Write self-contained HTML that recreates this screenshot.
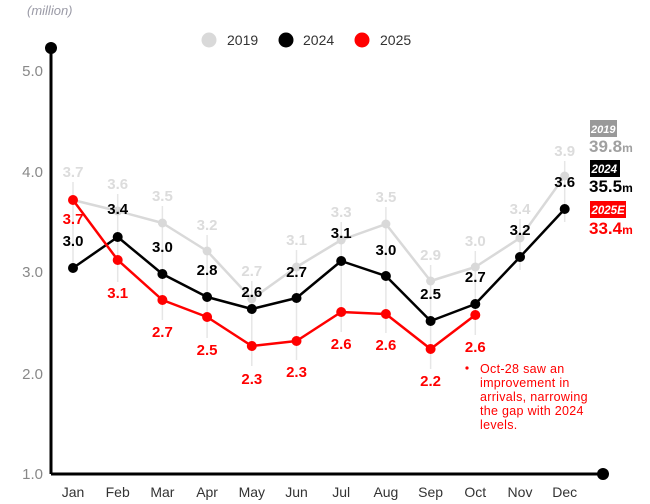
<!DOCTYPE html>
<html><head><meta charset="utf-8"><style>
html,body{margin:0;padding:0;background:#fff;}
svg{display:block;font-family:"Liberation Sans",Arial,sans-serif;}
</style></head><body>
<svg width="650" height="504" viewBox="0 0 650 504" xmlns="http://www.w3.org/2000/svg">
<text x="27" y="15" font-size="13" font-style="italic" fill="#9a9aa6">(million)</text>
<!-- legend -->
<circle cx="209" cy="40" r="7.5" fill="#d9d9d9"/><text x="227" y="45" font-size="14" fill="#333">2019</text>
<circle cx="286" cy="40" r="7.5" fill="#000"/><text x="303" y="45" font-size="14" fill="#333">2024</text>
<circle cx="362" cy="40" r="7.5" fill="#ff0000"/><text x="380" y="45" font-size="14" fill="#333">2025</text>
<!-- y ticks -->
<g font-size="15" fill="#888" text-anchor="end">
<text x="43" y="76">5.0</text><text x="43" y="177">4.0</text><text x="43" y="277">3.0</text><text x="43" y="379">2.0</text><text x="43" y="479">1.0</text>
</g>
<!-- vertical faint lines -->
<g stroke="#e6e6e6" stroke-width="1.5">
<line x1="73" y1="182" x2="73" y2="272"/>
<line x1="117.7" y1="194" x2="117.7" y2="282"/>
<line x1="162.4" y1="206" x2="162.4" y2="320"/>
<line x1="207.1" y1="235" x2="207.1" y2="338"/>
<line x1="251.8" y1="281" x2="251.8" y2="366"/>
<line x1="296.5" y1="250" x2="296.5" y2="360"/>
<line x1="341.2" y1="222" x2="341.2" y2="332"/>
<line x1="385.9" y1="207" x2="385.9" y2="333"/>
<line x1="430.6" y1="265" x2="430.6" y2="369"/>
<line x1="475.3" y1="251" x2="475.3" y2="335"/>
<line x1="520" y1="219" x2="520" y2="270"/>
<line x1="564.7" y1="161" x2="564.7" y2="222"/>
</g>
<!-- axes -->
<line x1="51" y1="48" x2="51" y2="474" stroke="#000" stroke-width="3"/>
<line x1="51" y1="474" x2="603" y2="474" stroke="#000" stroke-width="3"/>
<circle cx="51" cy="48" r="6" fill="#000"/>
<circle cx="603" cy="474" r="6" fill="#000"/>
<!-- 2019 -->
<polyline fill="none" stroke="#d9d9d9" stroke-width="2.5" stroke-linejoin="round" points="73,200 117.7,211 162.4,223 207.1,251 251.8,299 296.5,267 341.2,240 385.9,224 430.6,281 475.3,267 520,238 564.7,176"/>
<g fill="#d9d9d9">
<circle cx="73" cy="200" r="4.5"/><circle cx="117.7" cy="211" r="4.5"/><circle cx="162.4" cy="223" r="4.5"/><circle cx="207.1" cy="251" r="4.5"/><circle cx="251.8" cy="299" r="4.5"/><circle cx="296.5" cy="267" r="4.5"/><circle cx="341.2" cy="240" r="4.5"/><circle cx="385.9" cy="224" r="4.5"/><circle cx="430.6" cy="281" r="4.5"/><circle cx="475.3" cy="267" r="4.5"/><circle cx="520" cy="238" r="4.5"/><circle cx="564.7" cy="176" r="4.5"/>
</g>
<!-- 2024 -->
<polyline fill="none" stroke="#000" stroke-width="2.5" stroke-linejoin="round" points="73,268 117.7,237 162.4,274 207.1,297 251.8,309 296.5,298 341.2,261 385.9,276 430.6,321 475.3,304 520,257 564.7,209"/>
<g fill="#000">
<circle cx="73" cy="268" r="5"/><circle cx="117.7" cy="237" r="5"/><circle cx="162.4" cy="274" r="5"/><circle cx="207.1" cy="297" r="5"/><circle cx="251.8" cy="309" r="5"/><circle cx="296.5" cy="298" r="5"/><circle cx="341.2" cy="261" r="5"/><circle cx="385.9" cy="276" r="5"/><circle cx="430.6" cy="321" r="5"/><circle cx="475.3" cy="304" r="5"/><circle cx="520" cy="257" r="5"/><circle cx="564.7" cy="209" r="5"/>
</g>
<!-- 2025 -->
<polyline fill="none" stroke="#ff0000" stroke-width="2.5" stroke-linejoin="round" points="73,200 117.7,260 162.4,300 207.1,317 251.8,346 296.5,341 341.2,312 385.9,314 430.6,349 475.3,315"/>
<g fill="#ff0000">
<circle cx="73" cy="200" r="5"/><circle cx="117.7" cy="260" r="5"/><circle cx="162.4" cy="300" r="5"/><circle cx="207.1" cy="317" r="5"/><circle cx="251.8" cy="346" r="5"/><circle cx="296.5" cy="341" r="5"/><circle cx="341.2" cy="312" r="5"/><circle cx="385.9" cy="314" r="5"/><circle cx="430.6" cy="349" r="5"/><circle cx="475.3" cy="315" r="5"/>
</g>
<!-- labels 2019 -->
<g font-size="15" font-weight="bold" fill="#dcdcdc" text-anchor="middle">
<text x="73" y="177">3.7</text><text x="117.7" y="189">3.6</text><text x="162.4" y="201">3.5</text><text x="207.1" y="230">3.2</text><text x="251.8" y="276">2.7</text><text x="296.5" y="245">3.1</text><text x="341.2" y="217">3.3</text><text x="385.9" y="202">3.5</text><text x="430.6" y="260">2.9</text><text x="475.3" y="246">3.0</text><text x="520" y="214">3.4</text><text x="564.7" y="156">3.9</text>
</g>
<!-- labels 2024 -->
<g font-size="15" font-weight="bold" fill="#000" text-anchor="middle">
<text x="73" y="246">3.0</text><text x="117.7" y="214">3.4</text><text x="162.4" y="252">3.0</text><text x="207.1" y="275">2.8</text><text x="251.8" y="297">2.6</text><text x="296.5" y="277">2.7</text><text x="341.2" y="238">3.1</text><text x="385.9" y="255">3.0</text><text x="430.6" y="299">2.5</text><text x="475.3" y="282">2.7</text><text x="520" y="235">3.2</text><text x="564.7" y="187">3.6</text>
</g>
<!-- labels 2025 -->
<g font-size="15" font-weight="bold" fill="#ff0000" text-anchor="middle">
<text x="73" y="224">3.7</text><text x="117.7" y="298">3.1</text><text x="162.4" y="337">2.7</text><text x="207.1" y="355">2.5</text><text x="251.8" y="384">2.3</text><text x="296.5" y="377">2.3</text><text x="341.2" y="349">2.6</text><text x="385.9" y="350">2.6</text><text x="430.6" y="386">2.2</text><text x="475.3" y="352">2.6</text>
</g>
<!-- annotation -->
<circle cx="467" cy="368" r="1.6" fill="#ff0000"/>
<g font-size="12.5" fill="#ff0000" letter-spacing="0.3">
<text x="480" y="373">Oct-28 saw an</text>
<text x="480" y="387">improvement in</text>
<text x="480" y="401">arrivals, narrowing</text>
<text x="480" y="415">the gap with 2024</text>
<text x="480" y="429">levels.</text>
</g>
<!-- right summary -->
<rect x="590" y="120" width="27" height="17" fill="#999"/>
<text x="591" y="133" font-size="11" font-weight="bold" font-style="italic" fill="#fff">2019</text>
<text x="589" y="152" font-size="17" font-weight="bold" fill="#a0a0a0">39.8<tspan font-size="12">m</tspan></text>
<rect x="590" y="160" width="30" height="17" fill="#000"/>
<text x="591.5" y="173" font-size="11.5" font-weight="bold" font-style="italic" fill="#fff">2024</text>
<text x="589" y="192" font-size="17" font-weight="bold" fill="#000">35.5<tspan font-size="12">m</tspan></text>
<rect x="590" y="201" width="36" height="17" fill="#ff0000"/>
<text x="591.5" y="214" font-size="11.5" font-weight="bold" font-style="italic" fill="#fff">2025E</text>
<text x="589" y="234" font-size="17" font-weight="bold" fill="#ff0000">33.4<tspan font-size="12">m</tspan></text>
<!-- months -->
<g font-size="14" fill="#333" text-anchor="middle">
<text x="73" y="497">Jan</text><text x="117.7" y="497">Feb</text><text x="162.4" y="497">Mar</text><text x="207.1" y="497">Apr</text><text x="251.8" y="497">May</text><text x="296.5" y="497">Jun</text><text x="341.2" y="497">Jul</text><text x="385.9" y="497">Aug</text><text x="430.6" y="497">Sep</text><text x="475.3" y="497">Oct</text><text x="520" y="497">Nov</text><text x="564.7" y="497">Dec</text>
</g>
</svg>
</body></html>
